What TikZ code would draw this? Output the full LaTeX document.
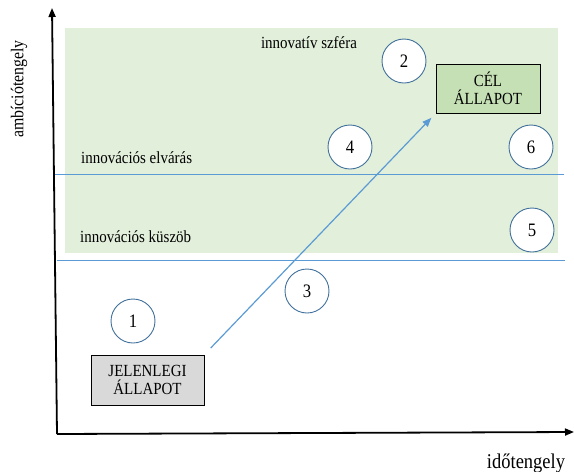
\documentclass[tikz,border=0pt]{standalone}
\usepackage{fontspec}
\setmainfont{Liberation Serif}[FakeStretch=0.88]
\usetikzlibrary{arrows.meta}
\definecolor{zone}{RGB}{226,239,218}
\definecolor{goalfill}{RGB}{197,224,180}
\definecolor{startfill}{RGB}{217,217,217}
\definecolor{lineblue}{RGB}{91,155,213}
\definecolor{ringblue}{RGB}{65,113,156}
\begin{document}
\begin{tikzpicture}[x=1pt,y=-1pt,
  axis/.style={line width=1.8pt,-{Triangle[length=9pt,width=7pt]}},
  level/.style={draw=lineblue,line width=0.8pt},
  marker/.style={circle,draw=ringblue,line width=0.9pt,fill=white,minimum size=44pt,inner sep=0pt,font=\fontsize{19}{19}\selectfont},
  statebox/.style={draw=black,line width=1pt,align=center,inner sep=0pt,font=\fontsize{17}{18}\selectfont},
  zonelabel/.style={font=\fontsize{17}{17}\selectfont,inner sep=0pt},
  flow/.style={draw=lineblue,line width=1.2pt,-{Triangle[length=9pt,width=7pt]}}]
\useasboundingbox (0,0) rectangle (574,472);

% innovative zone
\fill[zone] (65,28) rectangle (558,253);

% threshold levels
\coordinate (e1) at (55,174);
\coordinate (e2) at (564,174);
\coordinate (k1) at (57,260);
\coordinate (k2) at (565,260);
\draw[level] (e1) -- (e2);
\draw[level] (k1) -- (k2);

% axes
\coordinate (o) at (57,434);
\coordinate (ytop) at (52,8);
\coordinate (xend) at (574,432);
\draw[axis] (o) -- (ytop);
\draw[axis] (o) -- (xend);

% labels
\node[font=\fontsize{18}{18}\selectfont,inner sep=0pt,rotate=90] (ylab) at (19,89) {ambíciótengely};
\node[font=\fontsize{21}{21}\selectfont,inner sep=0pt] (xlab) at (526,463) {időtengely};
\node[zonelabel] (szfera) at (309,43) {innovatív szféra};
\node[zonelabel,anchor=west] (elvaras) at (81,158) {innovációs elvárás};
\node[zonelabel,anchor=west] (kuszob) at (80,237) {innovációs küszöb};

% states
\node[statebox,fill=goalfill,minimum width=104pt,minimum height=49pt] (cel) at (488,88.5) {CÉL\\ÁLLAPOT};
\node[statebox,fill=startfill,minimum width=113pt,minimum height=50pt] (jel) at (147.5,380) {JELENLEGI\\ÁLLAPOT};

% path from the current state to the goal
\draw[flow,shorten <=9pt,shorten >=6pt] (jel.north east) -- (cel.south west);

% numbered markers
\node[marker] (m1) at (133,321) {1};
\node[marker] (m2) at (404,61) {2};
\node[marker] (m3) at (307,291) {3};
\node[marker] (m4) at (350,147) {4};
\node[marker] (m5) at (532,230) {5};
\node[marker] (m6) at (531,147) {6};
\end{tikzpicture}
\end{document}
